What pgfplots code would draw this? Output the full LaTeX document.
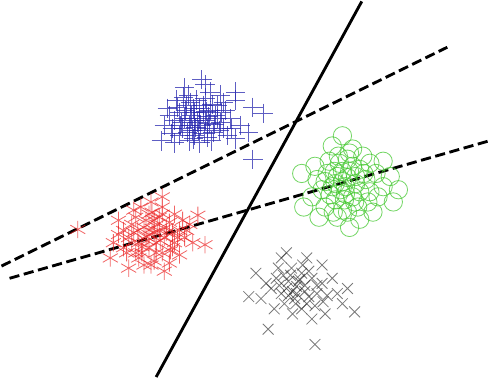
\documentclass[border=0pt]{standalone}
\usepackage{pgfplots}
\pgfplotsset{compat=1.18}
\begin{document}
\begin{tikzpicture}
\begin{axis}[
  scale only axis, width=489pt, height=375pt,
  xmin=0, xmax=489, ymin=0, ymax=375, y dir=reverse,
  hide axis, clip=true,
]
% blue plus cluster
\addplot[only marks, mark=+, mark size=9.5pt, color={rgb,255:red,40;green,40;blue,175}, mark options={line width=0.9pt, opacity=0.75}] coordinates {
(205,118)(200,112)(210,120)(195,125)(215,110)(190,118)(220,115)(208,105)(198,130)(212,128)
(185,112)(225,122)(202,100)(192,105)(218,132)(180,120)(230,110)(206,125)(196,118)(213,116)
(188,128)(222,105)(200,135)(175,115)(228,128)(210,98)(185,135)(235,118)(194,95)(216,140)
(178,128)(205,142)(170,125)(240,100)(225,95)(190,88)(167,140)(257,107)(267,113)(253,132)
(240,138)(257,158)(240,92)(210,85)(207,80)(182,100)(232,135)(199,108)(211,111)(204,130)
(187,122)(219,124)(226,112)(195,140)(173,108)(215,92)(245,125)(180,142)(200,120)(208,112)
(203,122)(197,115)(214,123)(191,110)(222,118)(186,125)(209,133)(201,127)(217,104)(193,132)
(228,102)(183,107)(236,128)(177,133)(212,137)(196,102)(224,130)(189,97)(205,108)(199,138)
};
% red asterisk cluster
\addplot[only marks, mark=asterisk, mark size=8.5pt, color={rgb,255:red,235;green,35;blue,35}, mark options={line width=0.8pt, opacity=0.7}] coordinates {
(160,230)(150,225)(170,235)(145,240)(165,215)(155,245)(175,220)(140,230)(180,240)(158,210)
(148,250)(168,250)(135,235)(185,228)(152,218)(162,240)(142,215)(172,225)(130,245)(190,235)
(155,232)(165,228)(138,222)(178,245)(160,258)(125,232)(195,222)(147,205)(168,205)(150,262)
(185,252)(133,250)(198,240)(157,200)(120,240)(180,212)(175,260)(145,255)(163,222)(153,238)
(85,227)(210,242)(203,213)(168,195)(117,255)(135,265)(125,218)(188,218)(170,268)(140,208)
(158,226)(152,234)(166,238)(144,228)(172,230)(160,218)(148,244)(176,248)(138,240)(183,235)
(162,250)(155,212)(130,228)(192,228)(168,212)(142,250)(157,262)(178,230)
};
% green circle cluster
\addplot[only marks, mark=o, mark size=9pt, color={rgb,255:red,70;green,200;blue,50}, mark options={line width=0.8pt, opacity=0.75}] coordinates {
(345,180)(340,175)(352,170)(335,185)(358,182)(348,192)(330,172)(362,168)(342,162)(355,195)
(325,188)(368,178)(338,198)(350,158)(372,190)(320,178)(360,205)(345,208)(332,160)(378,172)
(315,195)(365,155)(340,215)(385,185)(328,205)(355,148)(370,200)(318,165)(348,185)(338,182)
(358,175)(345,170)(305,172)(400,188)(345,135)(362,217)(307,205)(385,160)(392,175)(322,215)
(375,210)(335,145)(352,225)(395,200)
(350,176)(343,188)(355,165)(337,170)(362,190)(347,198)(333,193)(366,172)(352,152)(328,180)
(357,200)(341,155)(372,162)(350,210)(380,195)(336,210)
};
% black x cluster
\addplot[only marks, mark=x, mark size=7.5pt, color={rgb,255:red,50;green,50;blue,50}, mark options={line width=0.8pt, opacity=0.65}] coordinates {
(300,283)(292,278)(308,288)(285,290)(315,275)(298,295)(305,270)(280,275)(320,290)(295,265)
(288,300)(310,300)(275,285)(325,280)(302,278)(290,285)(312,268)(282,265)(318,302)(296,310)
(270,280)(330,292)(285,255)(305,305)(265,295)(335,275)(310,255)(278,305)(340,290)(300,290)
(294,272)(308,282)(272,325)(318,340)(357,308)(253,293)(328,310)(260,270)(345,300)(315,315)
(290,250)(325,262)(350,285)
(303,276)(296,288)(312,293)(287,272)(320,282)(299,300)(306,262)(283,282)(326,298)(292,292)
};
% lines
\addplot[black, line width=2.8pt] coordinates {(162,372)(364,3)};
\addplot[black, line width=2.8pt, dash pattern=on 10pt off 4.5pt] coordinates {(10,263)(448,48)};
\addplot[black, line width=2.8pt, dash pattern=on 10pt off 4.5pt] coordinates {(18,275)(489,140)};
\end{axis}
\end{tikzpicture}
\end{document}
